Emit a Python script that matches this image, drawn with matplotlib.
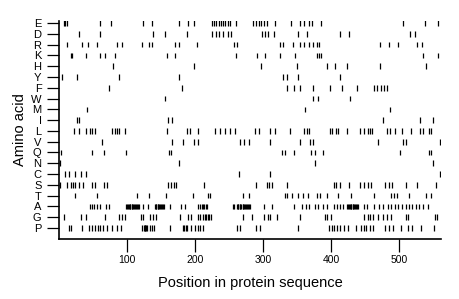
"""Amino acid positions along a protein sequence (strip chart)."""

import matplotlib

matplotlib.use("Agg")
import matplotlib.pyplot as plt

plt.rcParams["font.family"] = ["Liberation Sans", "DejaVu Sans"]

# Residue order, top to bottom
amino_acids = ["E", "D", "R", "K", "H", "Y", "F", "W", "M", "I",
               "L", "V", "Q", "N", "C", "S", "T", "A", "G", "P"]

# Positions of each residue in the sequence
E = [7, 9.5, 12, 60, 76, 123, 137, 177, 190, 198, 225, 228, 231, 235, 238, 241,
     244, 248, 251, 261, 286, 290, 294, 297, 301, 306, 318, 341, 355, 361, 368,
     372, 386, 506, 538, 558]
D = [29, 60, 139, 156, 188, 225, 231, 235, 241, 248, 253, 299, 303, 308, 316,
     352, 365, 414, 427, 517, 524]
R = [12, 34, 42, 56, 86, 93, 122, 132, 137, 171, 176, 203, 257, 262, 325, 330,
     344, 355, 361, 368, 374, 379, 383, 472, 485, 499, 527, 534]
K = [17, 19, 40, 61, 67, 83, 159, 171, 261, 291, 303, 325, 347, 379, 383, 386,
     536, 557]
H = [79, 198, 297, 350, 394, 406, 423, 472, 540]
Y = [5, 27, 89, 176, 330, 335, 351, 413]
F = [74, 181, 335, 345, 355, 374, 399, 417, 438, 463, 468, 473, 478, 482]
W = [156, 374, 381, 428]
M = [41, 362, 487]
I = [27, 30, 161, 166, 477, 531, 550]
L = [22, 30, 39, 45, 49, 53, 78, 82, 86, 89, 97, 159, 188, 192, 205, 230, 237,
     244, 252, 259, 289, 294, 311, 318, 340, 361, 365, 368, 398, 402, 407, 411,
     424, 443, 449, 454, 458, 461, 482, 487, 494, 504, 518, 531, 536, 544, 548]
V = [63, 166, 182, 198, 205, 267, 272, 279, 310, 354, 370, 374, 470, 506, 510,
     560]
Q = [3, 48, 66, 98, 162, 165, 328, 333, 345, 371, 376, 389, 502, 545, 547]
N = [2, 177, 377, 550]
C = [9, 14, 24, 33, 39, 265, 311, 561]
S = [2, 12, 17, 21, 24, 29, 36, 48, 53, 66, 71, 161, 165, 169, 172, 213, 290,
     306, 309, 313, 335, 404, 408, 413, 427, 443, 449, 454, 459, 480, 485, 490,
     510, 527, 554]
T = [23, 56, 115, 132, 158, 197, 219, 222, 270, 280, 333, 336, 343, 351, 359,
     366, 380, 384, 395, 410, 429, 463, 488, 493, 498, 515, 540, 548]
A = [45, 48, 52, 56, 61, 69, 73, 99, 100, 101, 103, 104, 105, 107, 108, 109,
     111, 112, 113, 115, 116, 117, 124, 131, 141, 142, 143, 145, 146, 147, 149,
     150, 151, 153, 154, 164, 179, 186, 204, 208, 210, 212, 214, 216, 218, 256,
     258, 262, 263, 264, 266, 267, 268, 270, 271, 272, 274, 275, 276, 278, 279,
     281, 301, 314, 345, 357, 363, 368, 377, 381, 388, 394, 404, 409, 414, 418,
     424, 425, 426, 428, 429, 430, 432, 433, 434, 436, 437, 439, 440, 448, 453,
     464, 471, 477, 484, 489, 494, 499, 505, 510, 515, 520, 525, 530, 536, 543]
G = [8, 32, 39, 67, 89, 92, 97, 120, 124, 134, 138, 142, 178, 190, 194, 205,
     208, 212, 215, 217, 219, 221, 223, 270, 284, 302, 307, 311, 320, 355, 391,
     395, 400, 448, 454, 458, 462, 470, 476, 482, 488, 511, 514, 553, 556]
P = [14, 18, 34, 44, 49, 53, 57, 61, 65, 70, 78, 85, 91, 122, 125, 126, 127,
     128, 130, 134, 137, 140, 164, 182, 184, 187, 189, 194, 200, 205, 208, 212,
     262, 266, 290, 295, 352, 397, 401, 405, 409, 414, 420, 425, 437, 444, 448,
     452, 457, 462, 479, 486, 492, 503, 513, 520, 533, 551]

x_ticks = [100, 200, 300, 400, 500]
seq_length = 562

positions = {"E": E, "D": D, "R": R, "K": K, "H": H, "Y": Y, "F": F, "W": W,
             "M": M, "I": I, "L": L, "V": V, "Q": Q, "N": N, "C": C, "S": S,
             "T": T, "A": A, "G": G, "P": P}

fig = plt.figure(figsize=(4.6, 2.99), dpi=100)
ax = fig.add_axes([59 / 460, 1 - 239 / 299, 382 / 460, 218 / 299])

n = len(amino_acids)
for i, aa in enumerate(amino_acids):
    row = n - i
    ax.vlines(positions[aa], row - 0.26, row + 0.26, color="black", linewidth=0.9)

ax.set_xlim(0, seq_length)
ax.set_ylim(-0.02, n + 0.19)

ax.set_yticks(range(n, 0, -1))
ax.set_yticklabels(amino_acids, fontsize=8)
ax.set_xticks(x_ticks)
ax.set_xticklabels([str(t) for t in x_ticks], fontsize=7.5)

ax.tick_params(axis="y", direction="out", length=8.6, width=0.9, pad=4)
ax.tick_params(axis="x", direction="out", length=9.4, width=0.9, pad=2)

for side in ("top", "right"):
    ax.spines[side].set_visible(False)
for side in ("left", "bottom"):
    ax.spines[side].set_linewidth(1.2)

ax.set_xlabel("Position in protein sequence", fontsize=10.5)
ax.set_ylabel("Amino acid", fontsize=10.5)
ax.xaxis.set_label_coords(0.5, -0.17)
ax.yaxis.set_label_coords(-0.085, 0.5)

fig.savefig("out.png", dpi=100)
plt.close(fig)
